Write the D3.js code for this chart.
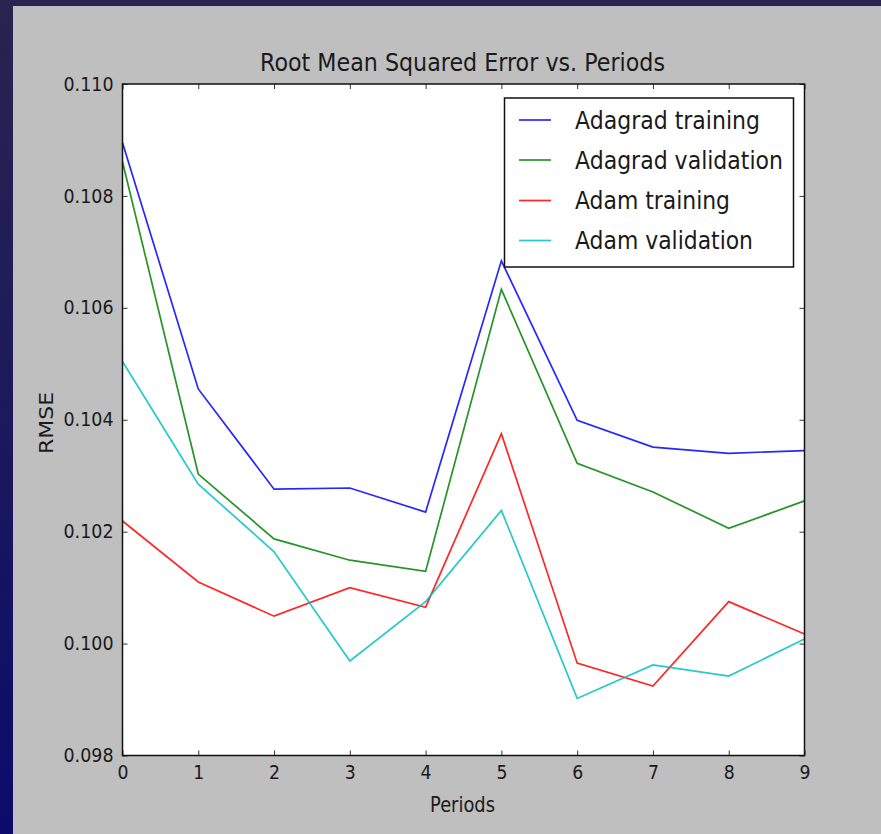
<!DOCTYPE html>
<html>
<head>
<meta charset="utf-8">
<script src="https://cdn.jsdelivr.net/npm/d3@7"></script>
<style>
  html, body { margin: 0; padding: 0; background: #27234f; }
  svg { display: block; }
  text { font-family: "DejaVu Sans", sans-serif; fill: #1a1a1a; }
</style>
</head>
<body>
<script>
// Training periods on the x axis
const periods = [0, 1, 2, 3, 4, 5, 6, 7, 8, 9];

// RMSE per period for each optimizer / split
const adagradTraining   = [0.10895, 0.10455, 0.10276, 0.10278, 0.10235, 0.10684, 0.10399, 0.10351, 0.10340, 0.10345];
const adagradValidation = [0.10861, 0.10303, 0.10187, 0.10149, 0.10129, 0.10633, 0.10322, 0.10271, 0.10206, 0.10255];
const adamTraining      = [0.10219, 0.10110, 0.10049, 0.10100, 0.10065, 0.10375, 0.09965, 0.09924, 0.10075, 0.10017];
const adamValidation    = [0.10504, 0.10285, 0.10164, 0.09969, 0.10075, 0.10238, 0.09902, 0.09962, 0.09942, 0.10008];

const seriesNames  = ["Adagrad training", "Adagrad validation", "Adam training", "Adam validation"];
const seriesColors = ["#0000ff", "#008000", "#ff0000", "#00bfbf"];
const seriesValues = [adagradTraining, adagradValidation, adamTraining, adamValidation];

const yTicks = [0.098, 0.100, 0.102, 0.104, 0.106, 0.108, 0.110];

const W = 881, H = 834;
const svg = d3.select("body").append("svg").attr("width", W).attr("height", H);

// Outer frame: dark blue backdrop with a slightly brighter lower-left
const defs = svg.append("defs");
const grad = defs.append("linearGradient").attr("id", "frame").attr("x1", 0).attr("y1", 0).attr("x2", 0).attr("y2", 1);
grad.append("stop").attr("offset", "0%").attr("stop-color", "#28244f");
grad.append("stop").attr("offset", "45%").attr("stop-color", "#1d1a5a");
grad.append("stop").attr("offset", "100%").attr("stop-color", "#0c0b6a");
svg.append("rect").attr("width", W).attr("height", H).attr("fill", "url(#frame)");
svg.append("rect").attr("x", 0).attr("y", 0).attr("width", W).attr("height", 6).attr("fill", "#28244f");

// Figure panel
svg.append("rect").attr("x", 13).attr("y", 6).attr("width", W - 13).attr("height", H - 6).attr("fill", "#bfbfbf");

const plot = { left: 122.5, top: 84, right: 804.5, bottom: 755.5 };
const x = d3.scaleLinear().domain([0, 9]).range([plot.left, plot.right]);
const y = d3.scaleLinear().domain([0.098, 0.110]).range([plot.bottom, plot.top]);

svg.append("rect")
  .attr("x", plot.left).attr("y", plot.top)
  .attr("width", plot.right - plot.left).attr("height", plot.bottom - plot.top)
  .attr("fill", "#ffffff");

// Fit text to a given rendered width
function fit(sel, width) {
  sel.attr("textLength", width).attr("lengthAdjust", "spacingAndGlyphs");
  return sel;
}

// Lines
const line = d3.line().x((d, i) => x(periods[i])).y(d => y(d));
const plotG = svg.append("g");
seriesValues.forEach((vals, k) => {
  plotG.append("path")
    .datum(vals)
    .attr("d", line)
    .attr("fill", "none")
    .attr("stroke", seriesColors[k])
    .attr("stroke-width", 1.7)
    .attr("stroke-opacity", 0.85)
    .attr("stroke-linejoin", "miter");
});

// Axes with inward ticks on all four sides
const tickLen = 5;
const axG = svg.append("g");
axG.append("g").attr("transform", `translate(0,${plot.bottom})`)
  .call(d3.axisBottom(x).tickValues(periods).tickSize(-tickLen).tickPadding(10).tickFormat(d3.format("d")))
  .call(g => g.select(".domain").remove());
axG.append("g").attr("transform", `translate(0,${plot.top})`)
  .call(d3.axisTop(x).tickValues(periods).tickSize(-tickLen).tickFormat(""))
  .call(g => g.select(".domain").remove());
axG.append("g").attr("transform", `translate(${plot.left},0)`)
  .call(d3.axisLeft(y).tickValues(yTicks).tickSize(-tickLen).tickPadding(9).tickFormat(d3.format(".3f")))
  .call(g => g.select(".domain").remove());
axG.append("g").attr("transform", `translate(${plot.right},0)`)
  .call(d3.axisRight(y).tickValues(yTicks).tickSize(-tickLen).tickFormat(""))
  .call(g => g.select(".domain").remove());
axG.selectAll(".tick line").attr("stroke", "#333").attr("stroke-width", 1);
axG.selectAll(".tick text").attr("font-size", 19).attr("fill", "#1a1a1a")
  .attr("font-family", "DejaVu Sans, sans-serif");
axG.selectAll(".tick text").each(function () {
  const t = d3.select(this);
  const s = t.text();
  if (s.length > 2) fit(t, 50);
  else fit(t, 11);
});

svg.append("rect")
  .attr("x", plot.left).attr("y", plot.top)
  .attr("width", plot.right - plot.left).attr("height", plot.bottom - plot.top)
  .attr("fill", "none").attr("stroke", "#111").attr("stroke-width", 1.5);

// Title and axis labels
fit(svg.append("text").attr("x", 462.5).attr("y", 71).attr("text-anchor", "middle")
  .attr("font-size", 25).text("Root Mean Squared Error vs. Periods"), 405);
fit(svg.append("text").attr("x", 462.5).attr("y", 812).attr("text-anchor", "middle")
  .attr("font-size", 21).text("Periods"), 65);
fit(svg.append("text").attr("transform", "translate(53,423) rotate(-90)").attr("text-anchor", "middle")
  .attr("font-size", 20).text("RMSE"), 62);

// Legend
const leg = svg.append("g");
leg.append("rect").attr("x", 504.5).attr("y", 98).attr("width", 289).attr("height", 169)
  .attr("fill", "#ffffff").attr("stroke", "#111").attr("stroke-width", 1.5);
const rowY = [120, 160, 200.5, 240.5];
const textW = [185, 208, 155, 178];
seriesNames.forEach((name, k) => {
  leg.append("line").attr("x1", 519).attr("x2", 551).attr("y1", rowY[k]).attr("y2", rowY[k])
    .attr("stroke", seriesColors[k]).attr("stroke-width", 1.7).attr("stroke-opacity", 0.85);
  fit(leg.append("text").attr("x", 575).attr("y", rowY[k] + 8.5)
    .attr("font-size", 25).text(name), textW[k]);
});
</script>
</body>
</html>
